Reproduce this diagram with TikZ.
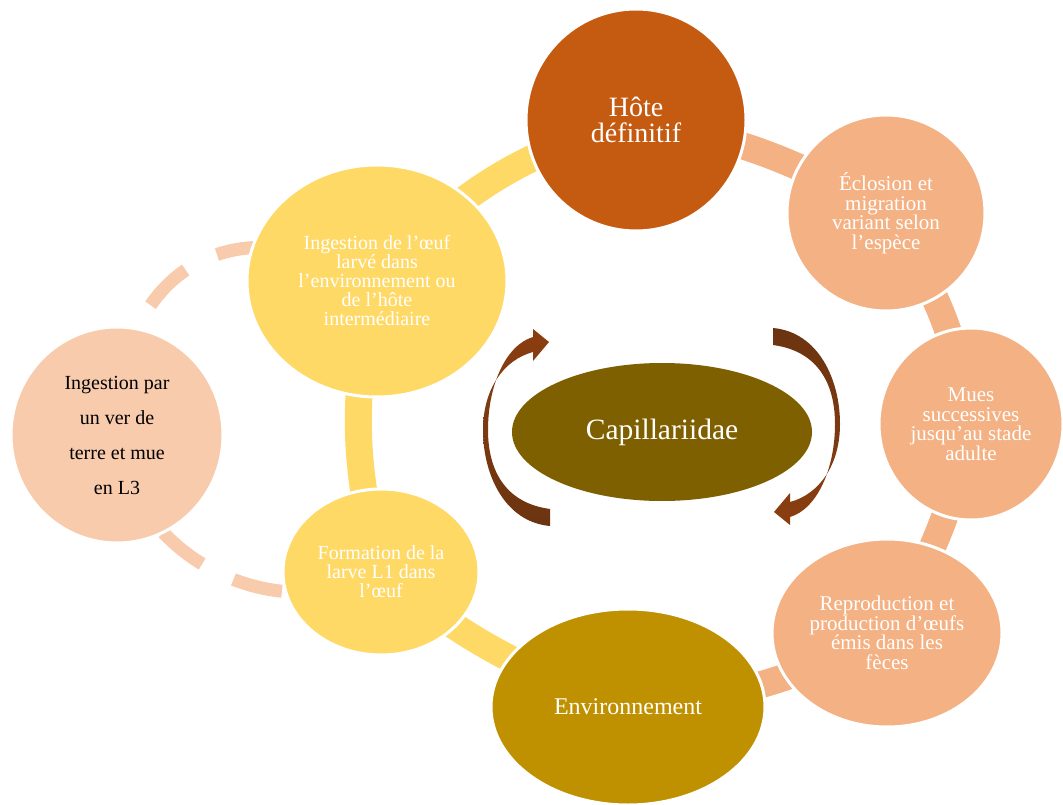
\documentclass[tikz,border=0pt]{standalone}
\usepackage{fontspec}
\setmainfont{Liberation Serif}
\usetikzlibrary{shapes.geometric,backgrounds}
\definecolor{hotec}{HTML}{C55A11}
\definecolor{peachc}{HTML}{F4B183}
\definecolor{goldc}{HTML}{FFD966}
\definecolor{envc}{HTML}{BF9000}
\definecolor{verc}{HTML}{F8CBAD}
\definecolor{capc}{HTML}{7F6000}
\definecolor{arrdark}{HTML}{6B3410}
\definecolor{arrlight}{HTML}{8B3E10}
\tikzset{
  bubble/.style={ellipse, inner sep=0pt, draw=white, line width=3pt, align=center, text=white},
  ringconn/.style={line width=27pt},
  dashconn/.style={line width=13pt, draw=verc, dash pattern=on 50pt off 35pt},
  smalltext/.style={font=\fontsize{21}{19.5}\selectfont},
}
\begin{document}
\begin{tikzpicture}[x=1pt,y=-1pt]
\useasboundingbox (0,0) rectangle (1063,805);
\begin{pgfonlayer}{background}
\fill[white] (0,0) rectangle (1063,805);
\end{pgfonlayer}

% nodes of the main cycle
\node[bubble, fill=hotec, minimum width=220pt, minimum height=222pt,
  font=\fontsize{28}{26.5}\selectfont] (H) at (636,120) {Hôte\\définitif};
\node[bubble, smalltext, fill=peachc, minimum width=198pt, minimum height=196pt]
  (E) at (886,213) {Éclosion et\\migration\\variant selon\\l’espèce};
\node[bubble, smalltext, fill=peachc, minimum width=184pt, minimum height=192pt]
  (M) at (971,424) {Mues\\successives\\jusqu’au stade\\adulte};
\node[bubble, smalltext, fill=peachc, minimum width=230pt, minimum height=188pt]
  (R) at (887,633) {Reproduction et\\production d’œufs\\émis dans les\\fèces};
\node[bubble, fill=envc, minimum width=274pt, minimum height=196pt,
  font=\fontsize{24}{24}\selectfont] (V) at (628,707) {Environnement};
\node[bubble, fill=goldc, minimum width=196pt, minimum height=166pt,
  font=\fontsize{20}{19}\selectfont] (F) at (381,572) {Formation de la\\larve L1 dans\\l’œuf};
\node[bubble, fill=goldc, minimum width=260pt, minimum height=232pt,
  font=\fontsize{20}{19}\selectfont] (I) at (377,281)
  {Ingestion de l’œuf\\larvé dans\\l’environnement ou\\de l’hôte\\intermédiaire};
\node[bubble, fill=verc, text=black, minimum width=212pt, minimum height=216pt,
  font=\fontsize{20}{35}\selectfont] (W) at (117,435) {Ingestion par\\un ver de\\terre et mue\\en L3};
\node[ellipse, inner sep=0pt, fill=capc, text=white, minimum width=300pt, minimum height=138pt,
  font=\fontsize{29.5}{30}\selectfont] (C) at (662,432) {Capillariidae};

% connectors
\begin{pgfonlayer}{background}
\draw[ringconn, peachc] (H.center) to[bend left=10] (E.center);
\draw[ringconn, peachc] (E.center) to[bend left=12] (M.center);
\draw[ringconn, peachc] (M.center) to[bend left=9] (R.center);
\draw[ringconn, peachc] (R.center) to[bend left=11] (V.center);
\draw[ringconn, goldc] (V.center) to[bend left=10] (F.center);
\draw[ringconn, goldc] (F.center) to[bend left=14] (I.center);
\draw[ringconn, goldc] (I.center) to[bend left=16] (H.center);
\draw[dashconn, dash phase=53pt] (I.center) to[bend right=60, looseness=1.4] (W.center);
\draw[dashconn, dash phase=60pt] (W.center) to[bend right=56, looseness=1.05] (F.center);
\end{pgfonlayer}

% circular arrows around the centre
\shade[top color=arrlight, bottom color=arrdark]
  (550,526) .. controls (505,522) and (483,475) .. (483,430)
  .. controls (483,390) and (503,360) .. (533,352)
  -- (533,361) -- (549,342) -- (533,329) -- (533,337)
  .. controls (506,345) and (488,385) .. (488,430)
  .. controls (488,470) and (505,503) .. (550,509) -- cycle;
\shade[top color=arrdark, bottom color=arrlight]
  (773,328) .. controls (818,332) and (840,379) .. (840,424)
  .. controls (840,464) and (820,494) .. (790,502)
  -- (790,493) -- (774,512) -- (790,525) -- (790,517)
  .. controls (817,509) and (835,469) .. (835,424)
  .. controls (835,384) and (818,351) .. (773,345) -- cycle;
\end{tikzpicture}
\end{document}
